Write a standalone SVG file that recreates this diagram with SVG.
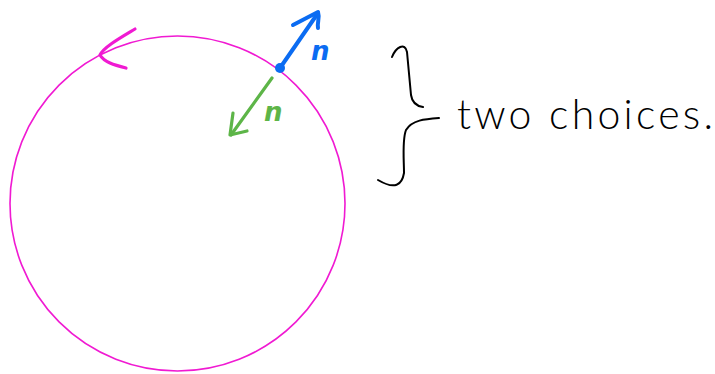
<svg xmlns="http://www.w3.org/2000/svg" width="715" height="374" viewBox="0 0 715 374">
<style>
.pen{fill:none;stroke-linecap:round;stroke-linejoin:round}
.lbl{font-family:"DejaVu Sans","Liberation Sans",sans-serif;font-style:italic}
</style>
<rect width="715" height="374" fill="#fff"/>
<g id="circle">
<circle cx="177.5" cy="203.5" r="167.5" class="pen" stroke="#f01ad2" stroke-width="1.6"/>
<path class="pen" d="M135,29 C120,38 104,47 100,55 C104,62 114,65 126,68" stroke="#f01ad2" stroke-width="3.2"/>
</g>
<g id="connectors">
<path class="pen" d="M280,68 L318,13" stroke="#0b6cf2" stroke-width="4"/>
<path class="pen" d="M293,25 L318,12 C320,18 317,22 318,28" stroke="#0b6cf2" stroke-width="4"/>
<path class="pen" d="M272,78 L231,135" stroke="#5db548" stroke-width="3.2"/>
<path class="pen" d="M233,113 C232,120 231,128 230,135 L247,131" stroke="#5db548" stroke-width="3.2"/>
</g>
<g id="point">
<circle cx="280" cy="68" r="5" fill="#0b6cf2"/>
</g>
<g id="label-n-blue">
<text x="311" y="60" class="lbl" font-size="26" font-weight="bold" fill="#0b6cf2">n</text>
</g>
<g id="label-n-green">
<text x="264" y="121" class="lbl" font-size="26" font-weight="bold" fill="#5db548">n</text>
</g>
<g id="brace">
<path class="pen" d="M392,57 C396,47 405,42 407,52 L411,95 C412,102 416,106 423,107" stroke="#000" stroke-width="2"/>
<path class="pen" d="M439,118 C425,119 412,120 406,130 C402,140 404,160 404,173 C402,185 395,190 378,180" stroke="#000" stroke-width="2"/>
</g>
<g id="label-two-choices">
<text x="457" y="129" font-family="Lato,'Liberation Sans',sans-serif" font-weight="300" font-size="41" fill="#000" textLength="256" lengthAdjust="spacing">two choices.</text>
</g>
</svg>
